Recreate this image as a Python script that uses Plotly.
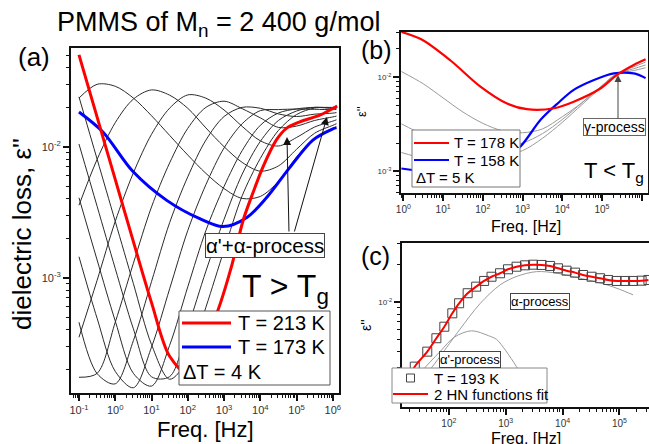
import plotly.graph_objects as go

W, H = 649, 444
FONT = "Liberation Sans, Arial, sans-serif"

# ---------------- Panel (a): T > Tg, log10 values ----------------
a_logf = [-1.0, -0.5, 0.0, 0.5, 1.0, 1.5, 2.0, 2.5, 3.0, 3.5, 4.0, 4.5, 5.0, 5.5, 6.0, 6.1]
a_eps_177 = [-1.629, -1.524, -1.539, -1.629, -1.764, -1.914, -2.064, -2.204, -2.32, -2.395, -2.38, -2.265, -2.078, -1.935, -1.86, -1.85]
a_eps_181 = [-2.447, -2.097, -1.817, -1.637, -1.567, -1.607, -1.707, -1.857, -2.0, -2.12, -2.187, -2.147, -2.02, -1.897, -1.837, -1.825]
a_eps_185 = [-3.455, -3.02, -2.57, -2.20, -1.906, -1.706, -1.605, -1.63, -1.72, -1.845, -1.955, -1.995, -1.93, -1.85, -1.805, -1.795]
a_eps_189 = [-3.76, -3.73, -3.34, -2.89, -2.46, -2.124, -1.86, -1.70, -1.653, -1.71, -1.78, -1.853, -1.843, -1.80, -1.773, -1.767]
a_eps_193 = [-3.34, -3.732, -3.81, -3.48, -3.03, -2.58, -2.23, -1.95, -1.77, -1.70, -1.707, -1.75, -1.77, -1.752, -1.744, -1.74]
a_eps_197 = [-2.84, -3.31, -3.715, -3.84, -3.53, -3.085, -2.64, -2.29, -2.01, -1.825, -1.725, -1.717, -1.713, -1.715, -1.717, -1.715]
a_eps_201 = [-2.39, -2.865, -3.33, -3.73, -3.827, -3.516, -3.07, -2.64, -2.304, -2.03, -1.837, -1.743, -1.712, -1.70, -1.708, -1.708]
a_eps_205 = [-1.98, -2.455, -2.93, -3.39, -3.756, -3.755, -3.38, -2.95, -2.555, -2.21, -1.96, -1.80, -1.728, -1.70, -1.705, -1.703]
a_eps_209 = [-1.62, -2.095, -2.57, -3.045, -3.51, -3.775, -3.625, -3.225, -2.79, -2.375, -2.09, -1.876, -1.755, -1.705, -1.70, -1.698]
a_black = [a_eps_177, a_eps_181, a_eps_185, a_eps_189, a_eps_193, a_eps_197, a_eps_201, a_eps_205, a_eps_209]

a_red_logf = [-1.0, -0.5, 0.0, 0.5, 1.0, 1.5, 2.0, 2.5, 2.83, 3.2, 3.53, 3.8, 4.08, 4.44, 4.72, 5.09, 5.64, 6.12]
a_red_eps = [-1.30, -1.775, -2.25, -2.725, -3.19, -3.60, -3.73, -3.46, -3.25, -2.92, -2.56, -2.35, -2.15, -1.95, -1.86, -1.81, -1.76, -1.69]
a_blue_logf = [-1.0, -0.34, 0.49, 1.42, 2.33, 2.97, 3.63, 4.17, 4.81, 5.45, 6.0, 6.1]
a_blue_eps = [-1.735, -1.888, -2.19, -2.41, -2.55, -2.61, -2.54, -2.39, -2.16, -1.95, -1.865, -1.855]

# ---------------- Panel (b): T < Tg ----------------
b_red_logf = [-0.05, 0.46, 1.18, 1.94, 2.61, 3.11, 3.79, 4.29, 4.96, 5.38, 5.80, 6.10]
b_red_eps = [-1.52, -1.60, -1.82, -2.10, -2.28, -2.34, -2.33, -2.26, -2.12, -1.975, -1.87, -1.81]
b_blue_logf = [-0.05, 0.5, 1.0, 1.5, 2.0, 2.5, 2.95, 3.46, 3.88, 4.29, 4.80, 5.30, 5.8, 6.1]
b_blue_eps = [-2.97, -3.0, -3.02, -3.02, -2.98, -2.88, -2.735, -2.45, -2.28, -2.135, -2.03, -1.96, -1.96, -2.01]
b_gray_logf = [-0.05, 0.5, 1.0, 1.5, 2.0, 2.5, 3.0, 3.5, 4.0, 4.5, 5.0, 5.35, 5.8, 6.1]
b_gray_173 = [-1.94, -2.07, -2.22, -2.37, -2.49, -2.57, -2.59, -2.55, -2.42, -2.27, -2.09, -1.97, -1.89, -1.84]
b_gray_168 = [-2.495, -2.61, -2.68, -2.73, -2.75, -2.74, -2.70, -2.60, -2.45, -2.27, -2.09, -1.97, -1.91, -1.87]
b_gray_163 = [-2.80, -2.86, -2.88, -2.88, -2.86, -2.83, -2.78, -2.65, -2.48, -2.29, -2.10, -1.97, -1.93, -1.90]
b_gray = [b_gray_173, b_gray_168, b_gray_163]

# ---------------- Panel (c): T = 193 K fit ----------------
c_logf = [1.10, 1.25, 1.40, 1.62, 1.78, 1.92, 2.06, 2.18, 2.33, 2.48, 2.62, 2.75, 2.90, 3.04, 3.19, 3.34,
          3.48, 3.63, 3.78, 3.92, 4.07, 4.22, 4.36, 4.51, 4.66, 4.80, 4.95, 5.10, 5.24, 5.39, 5.51]
c_eps = [-2.77, -2.64, -2.519, -2.398, -2.290, -2.197, -2.089, -2.008, -1.927, -1.874, -1.828, -1.794, -1.766,
         -1.734, -1.713, -1.702, -1.697, -1.699, -1.707, -1.726, -1.745, -1.761, -1.780, -1.794, -1.806, -1.820,
         -1.828, -1.828, -1.828, -1.826, -1.820]
c_alpha_logf = [1.64, 1.84, 2.19, 2.55, 2.90, 3.2, 3.54, 3.9, 4.19, 4.5, 4.78, 5.0, 5.24]
c_alpha_eps = [-2.56, -2.44, -2.22, -2.01, -1.86, -1.79, -1.753, -1.765, -1.794, -1.826, -1.86, -1.895, -1.94]
c_alphap_logf = [1.4, 1.54, 1.84, 2.1, 2.4, 2.7, 2.84, 3.0, 3.19, 3.4]
c_alphap_eps = [-2.66, -2.55, -2.40, -2.28, -2.23, -2.27, -2.30, -2.39, -2.52, -2.68]


def lin(v):
    return [10.0 ** x for x in v]


def px(x):
    return x / W


def py(y):
    return 1 - y / H


fig = go.Figure()

# panel (a)
for eps in a_black:
    fig.add_trace(go.Scatter(x=lin(a_logf), y=lin(eps), mode="lines", xaxis="x", yaxis="y",
                             line=dict(color="#2a2a2a", width=1, shape="spline", smoothing=0.9),
                             showlegend=False, hoverinfo="skip"))
fig.add_trace(go.Scatter(x=lin(a_blue_logf), y=lin(a_blue_eps), mode="lines", xaxis="x", yaxis="y",
                         line=dict(color="#0000ff", width=3, shape="spline", smoothing=0.9), showlegend=False))
fig.add_trace(go.Scatter(x=lin(a_red_logf), y=lin(a_red_eps), mode="lines", xaxis="x", yaxis="y",
                         line=dict(color="#ff0000", width=3, shape="spline", smoothing=0.9), showlegend=False))

# panel (b)
for eps in b_gray:
    fig.add_trace(go.Scatter(x=lin(b_gray_logf), y=lin(eps), mode="lines", xaxis="x2", yaxis="y2",
                             line=dict(color="#9a9a9a", width=1, shape="spline", smoothing=0.9), showlegend=False))
fig.add_trace(go.Scatter(x=lin(b_blue_logf), y=lin(b_blue_eps), mode="lines", xaxis="x2", yaxis="y2",
                         line=dict(color="#0000ff", width=2.2, shape="spline", smoothing=0.9), showlegend=False))
fig.add_trace(go.Scatter(x=lin(b_red_logf), y=lin(b_red_eps), mode="lines", xaxis="x2", yaxis="y2",
                         line=dict(color="#ff0000", width=2.2, shape="spline", smoothing=0.9), showlegend=False))

# panel (c)
fig.add_trace(go.Scatter(x=lin(c_alpha_logf), y=lin(c_alpha_eps), mode="lines", xaxis="x3", yaxis="y3",
                         line=dict(color="#9a9a9a", width=1, shape="spline", smoothing=0.9), showlegend=False))
fig.add_trace(go.Scatter(x=lin(c_alphap_logf), y=lin(c_alphap_eps), mode="lines", xaxis="x3", yaxis="y3",
                         line=dict(color="#9a9a9a", width=1, shape="spline", smoothing=0.9), showlegend=False))
fig.add_trace(go.Scatter(x=lin(c_logf), y=lin(c_eps), mode="markers", xaxis="x3", yaxis="y3",
                         marker=dict(symbol="square-open", size=9, color="#444", line=dict(width=1)),
                         showlegend=False))
fig.add_trace(go.Scatter(x=lin(c_logf), y=lin(c_eps), mode="lines", xaxis="x3", yaxis="y3",
                         line=dict(color="#ff0000", width=2, shape="spline", smoothing=0.9), showlegend=False))


def sup_label(p):
    return "10<sup>%s</sup>" % (str(p) if p >= 0 else "-" + str(-p))


def minor_vals(lo, hi):
    return [d * 10.0 ** e for e in range(lo, hi) for d in range(2, 10)]


def log_axis(domain, rng, majors, lab_size, anchor, minor_rng):
    return dict(type="log", domain=domain, range=rng, anchor=anchor, automargin=False,
                showline=True, linewidth=2, linecolor="#111", mirror=True,
                ticks="outside", ticklen=6, tickwidth=1.5, tickcolor="#111",
                tickmode="array", tickvals=[10.0 ** p for p in majors],
                ticktext=[sup_label(p) for p in majors],
                tickfont=dict(family=FONT, size=lab_size, color="#333"),
                minor=dict(tickmode="array", tickvals=minor_vals(*minor_rng), ticks="outside",
                           ticklen=3, tickwidth=1, tickcolor="#111", showgrid=False),
                showgrid=False, zeroline=False)


fig.update_layout(
    width=W, height=H, autosize=False,
    margin=dict(l=0, r=0, t=0, b=0, autoexpand=False),
    paper_bgcolor="white", plot_bgcolor="white",
    xaxis=log_axis([px(71), px(339)], [-1.22, 6.17], list(range(-1, 7)), 11, "y", (-2, 7)),
    yaxis=log_axis([py(393), py(48)], [-3.88, -1.247], [-3, -2], 11, "x", (-4, -1)),
    xaxis2=log_axis([px(401), px(648)], [-0.06, 6.16], list(range(0, 7)), 10, "y2", (-1, 7)),
    yaxis2=log_axis([py(193), py(32)], [-3.23, -1.52], [-3, -2], 8, "x2", (-4, -1)),
    xaxis3=log_axis([px(401.7), 1.0], [1.17, 5.52], [2, 3, 4, 5], 10, "y3", (1, 6)),
    yaxis3=log_axis([py(406.7), py(243)], [-2.842, -1.522], [-2], 8, "x3", (-3, -1)),
)

ann = []
shapes = []


def text(x, y, s, size, xanchor="center", yanchor="middle", angle=0, **kw):
    ann.append(dict(x=px(x), y=py(y), xref="paper", yref="paper", text=s, showarrow=False,
                    xanchor=xanchor, yanchor=yanchor, textangle=angle,
                    font=dict(family=FONT, size=size, color="#000"), **kw))


# titles and panel letters
text(218, 24, "PMMS of M<sub>n</sub> = 2 400 g/mol", 27)
text(34, 57, "(a)", 26)
text(376, 50, "(b)", 25)
text(375, 256, "(c)", 25)

# axis titles
text(22, 234, "dielectric loss, ε''", 26, angle=-90)
text(205, 429, "Freq. [Hz]", 22)
text(526, 226, "Freq. [Hz]", 16)
text(362, 112, "ε''", 13, angle=-90)
text(526, 438, "Freq. [Hz]", 16)
text(366, 325, "ε''", 14, angle=-90)

# panel (a) labels
text(265, 245, "α'+α-process", 20.5, bordercolor="#444", borderwidth=1, borderpad=0, bgcolor="white")
text(285, 288, "T &gt; T<sub>g</sub>", 32)

# panel (a) arrows
for hx, hy, tx, ty in [(287, 137, 289, 233), (327, 117, 294, 233)]:
    ann.append(dict(x=px(hx), y=py(hy), xref="paper", yref="paper", ax=tx - hx, ay=ty - hy,
                    axref="pixel", ayref="pixel", text="", showarrow=True, arrowhead=2,
                    arrowsize=1.6, arrowwidth=1, arrowcolor="#111"))

# panel (a) legend
shapes.append(dict(type="rect", xref="paper", yref="paper", x0=px(179), x1=px(330), y0=py(385), y1=py(311),
                   fillcolor="white", line=dict(color="#555", width=1), layer="above"))
shapes.append(dict(type="line", xref="paper", yref="paper", x0=px(182), x1=px(231), y0=py(323), y1=py(323),
                   line=dict(color="#ff0000", width=3), layer="above"))
shapes.append(dict(type="line", xref="paper", yref="paper", x0=px(182), x1=px(231), y0=py(347), y1=py(347),
                   line=dict(color="#0000ff", width=3), layer="above"))
text(236, 323, "T = 213 K", 20, xanchor="left")
text(236, 347, "T = 173 K", 20, xanchor="left")
text(181, 372, "ΔT = 4 K", 20, xanchor="left")

# panel (b) labels
text(646, 127, "γ-process", 14, xanchor="right", bordercolor="#666", borderwidth=1, borderpad=0, bgcolor="white")
ann.append(dict(x=px(618), y=py(75), xref="paper", yref="paper", ax=0, ay=45,
                axref="pixel", ayref="pixel", text="", showarrow=True, arrowhead=2,
                arrowsize=1.4, arrowwidth=1, arrowcolor="#444"))
text(646, 172, "T &lt; T<sub>g</sub>", 22, xanchor="right")
shapes.append(dict(type="rect", xref="paper", yref="paper", x0=px(412), x1=px(520), y0=py(187), y1=py(130),
                   fillcolor="white", line=dict(color="#777", width=1), layer="above"))
shapes.append(dict(type="line", xref="paper", yref="paper", x0=px(414), x1=px(449), y0=py(143), y1=py(143),
                   line=dict(color="#ff0000", width=2), layer="above"))
shapes.append(dict(type="line", xref="paper", yref="paper", x0=px(414), x1=px(449), y0=py(160), y1=py(160),
                   line=dict(color="#0000ff", width=2), layer="above"))
text(452, 143, "T = 178 K", 15, xanchor="left")
text(452, 160, "T = 158 K", 15, xanchor="left")
text(414, 177, "ΔT = 5 K", 15, xanchor="left")

# panel (c) labels
text(540, 301, "α-process", 13, bordercolor="#444", borderwidth=1, borderpad=0, bgcolor="white")
text(470, 359, "α'-process", 13, bordercolor="#444", borderwidth=1, borderpad=0, bgcolor="white")
shapes.append(dict(type="rect", xref="paper", yref="paper", x0=px(392), x1=px(547), y0=py(403), y1=py(368),
                   fillcolor="white", line=dict(color="#888", width=1), layer="above"))
shapes.append(dict(type="rect", xref="paper", yref="paper", x0=px(406.5), x1=px(414.5), y0=py(382), y1=py(374),
                   fillcolor="white", line=dict(color="#444", width=1), layer="above"))
shapes.append(dict(type="line", xref="paper", yref="paper", x0=px(393), x1=px(428), y0=py(394), y1=py(394),
                   line=dict(color="#ff0000", width=2), layer="above"))
text(432, 378, "T = 193 K", 15, xanchor="left")
text(432, 394, "2 HN functions fit", 15, xanchor="left")

fig.update_layout(annotations=ann, shapes=shapes)
fig.write_html("out.html", config={"displayModeBar": False},
               post_script="document.body.style.margin='0';document.body.style.padding='0';"
                           "document.body.style.overflow='hidden';")
